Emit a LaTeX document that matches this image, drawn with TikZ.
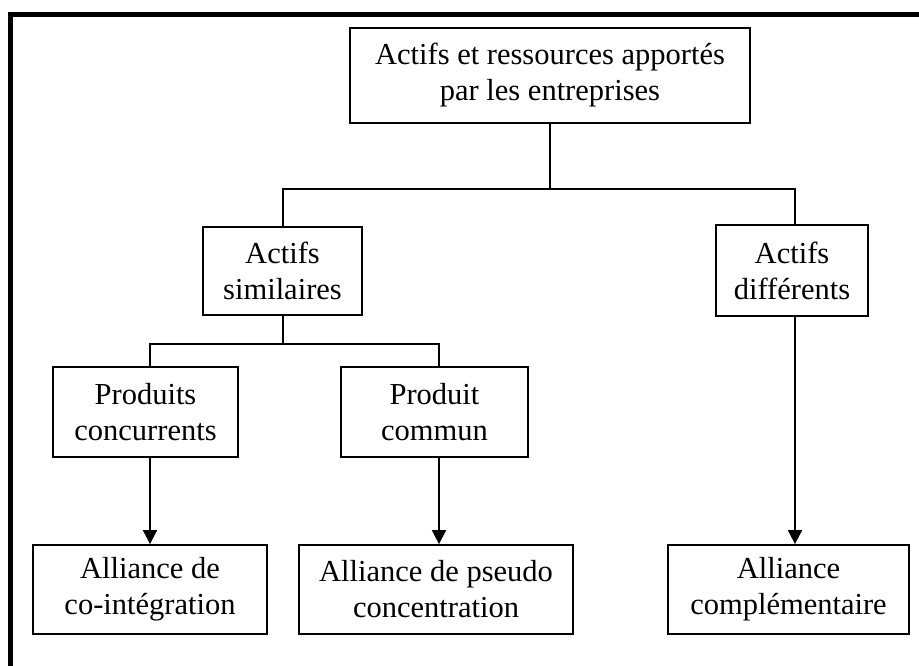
\documentclass[tikz,border=0pt]{standalone}
\usepackage{fontspec}
\setmainfont{Liberation Serif}
\usetikzlibrary{arrows.meta}
\begin{document}
\begin{tikzpicture}[x=1pt,y=-1pt,
  box/.style={draw=black,line width=1.8pt,align=center,inner sep=0pt,
    font=\fontsize{30.5}{36}\selectfont},
  link/.style={draw=black,line width=1.8pt},
  arr/.style={link,-{Triangle[length=14pt,width=14pt]}}]
\useasboundingbox (0,0) rectangle (919,666);
\clip (0,0) rectangle (919,666);
% outer frame (top and left edges)
\draw[line width=5pt] (10,700) -- (10,15) -- (940,15);
% boxes
\node[box,minimum width=400pt,minimum height=95pt] (top) at (550,75.5)
  {Actifs et ressources apportés\\par les entreprises};
\node[box,minimum width=159pt,minimum height=88pt] (sim) at (282.5,271)
  {Actifs\\similaires};
\node[box,minimum width=152pt,minimum height=91pt] (dif) at (792,270.5)
  {Actifs\\différents};
\node[box,minimum width=185pt,minimum height=90pt] (conc) at (145.5,412)
  {Produits\\concurrents};
\node[box,minimum width=187pt,minimum height=90pt] (comm) at (434.5,412)
  {Produit\\commun};
\node[box,minimum width=234pt,minimum height=89pt] (ci) at (150,589.5)
  {Alliance de\\co-intégration};
\node[box,minimum width=274pt,minimum height=89pt] (ps) at (436,589.5)
  {Alliance de pseudo\\concentration};
\node[box,minimum width=241pt,minimum height=89pt] (comp) at (788.5,589.5)
  {Alliance\\complémentaire};
% bus junction points
\coordinate (busT) at (550,189);
\coordinate (busTL) at (283,189);
\coordinate (busTR) at (795,189);
\coordinate (busS) at (283,344);
\coordinate (busSL) at (150,344);
\coordinate (busSR) at (439,344);
% first level
\draw[link] (top.south) -- (busT);
\draw[link] (busTL |- sim.north) -- (busTL) -- (busTR) -- (busTR |- dif.north);
% second level
\draw[link] (busS |- sim.south) -- (busS);
\draw[link] (busSL |- conc.north) -- (busSL) -- (busSR) -- (busSR |- comm.north);
% arrows to alliances
\draw[arr] (busSL |- conc.south) -- (busSL |- ci.north);
\draw[arr] (busSR |- comm.south) -- (busSR |- ps.north);
\draw[arr] (busTR |- dif.south) -- (busTR |- comp.north);
\end{tikzpicture}
\end{document}
